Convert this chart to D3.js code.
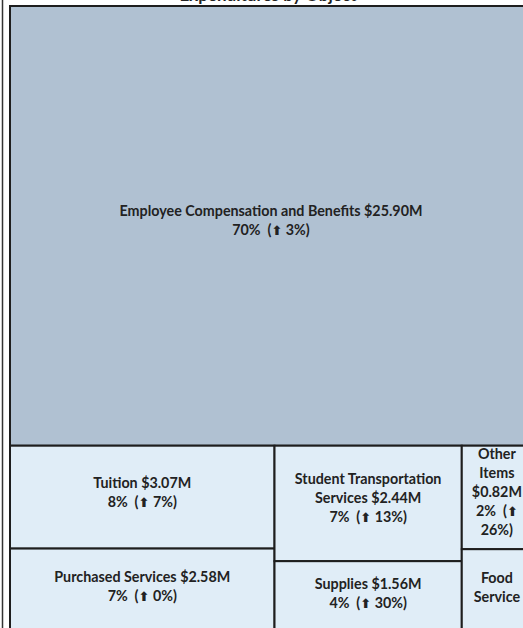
<!DOCTYPE html>
<html><head><meta charset="utf-8">
<script src="https://cdn.jsdelivr.net/npm/d3@7"></script>
<style>body{margin:0;background:#fff;overflow:hidden} svg{display:block}</style>
</head><body>
<svg id="chart" width="523" height="628"></svg>
<script>
// ---- data ----
const title = "Expenditures by Object";
const categories = ["Employee Compensation and Benefits", "Tuition", "Purchased Services",
  "Student Transportation Services", "Supplies", "Other Items", "Food Service"];
const amounts = [25.90, 3.07, 2.58, 2.44, 1.56, 0.82, 0.68];   // $ millions
const shares  = [70, 8, 7, 7, 4, 2, 2];                         // % of total
const changes = [3, 7, 0, 13, 30, 26, null];                     // % change (arrow up); null = not visible
const bandOf  = [0, 1, 1, 2, 2, 3, 3];                           // 0 = top band, 1..3 = lower columns

// ---- build hierarchy ----
const leaves = categories.map((c, i) => ({name: c, value: amounts[i], share: shares[i], change: changes[i], band: bandOf[i]}));
const lowerCols = d3.groups(leaves.filter(d => d.band > 0), d => d.band).map(([k, v]) => ({name: "col" + k, children: v}));
const rootData = {name: "root", children: [...leaves.filter(d => d.band === 0), {name: "lower", children: lowerCols}]};

const root = d3.hierarchy(rootData).sum(d => d.children ? 0 : d.value);

const X0 = 10, Y0 = 6, W = 522, H = 629;
const tile = (node, x0, y0, x1, y1) => (node.depth % 2 === 0 ? d3.treemapSlice : d3.treemapDice)(node, x0, y0, x1, y1);
d3.treemap().tile(tile).size([W, H]).round(false)(root);

const svg = d3.select("#chart");
const fontFam = "Lato, 'Open Sans', sans-serif";
const FS = 14.3;

// outer frame line
svg.append("line").attr("x1", 2.5).attr("x2", 2.5).attr("y1", 0).attr("y2", 628)
  .attr("stroke", "#333").attr("stroke-width", 1.5);

// title (mostly cropped above the top edge)
svg.append("text").attr("x", 268).attr("y", 0.5).attr("text-anchor", "middle")
  .attr("font-family", fontFam).attr("font-weight", "bold").attr("font-size", 17).attr("fill", "#222")
  .text(title);

const g = svg.append("g").attr("transform", `translate(${X0},${Y0})`);
const cells = g.selectAll("g.cell").data(root.leaves()).join("g").attr("class", "cell");

cells.append("rect")
  .attr("x", d => d.x0).attr("y", d => d.y0)
  .attr("width", d => d.x1 - d.x0).attr("height", d => d.y1 - d.y0)
  .attr("fill", d => d.data.band === 0 ? "#b0c1d2" : "#e0edf7")
  .attr("stroke", "#1e1e1e").attr("stroke-width", 2);

// text measuring helper
const meas = svg.append("text").attr("font-family", fontFam).attr("font-weight", "bold").attr("font-size", FS).attr("visibility", "hidden");
function fillLine(sel, str) {
  sel.selectAll("tspan").remove();
  const parts = str.split("⬆");
  parts.forEach((p, i) => {
    if (i > 0) sel.append("tspan").attr("font-family", "'DejaVu Sans'").attr("font-size", 13).text("⬆");
    if (p) sel.append("tspan").text(p);
  });
}
function width(str) { fillLine(meas, str); return meas.node().getComputedTextLength(); }
function wrap(str, maxW) {
  const words = str.split(" ");
  const lines = []; let cur = "";
  words.forEach(w => {
    const t = cur ? cur + " " + w : w;
    if (cur && width(t) > maxW) { lines.push(cur); cur = w; } else cur = t;
  });
  if (cur) lines.push(cur);
  return lines;
}

const LH = 19;
cells.each(function(d) {
  const w = d.x1 - d.x0, h = d.y1 - d.y0, maxW = w - 8;
  let lines;
  if (d.data.change == null) {
    lines = wrap(d.data.name, maxW);
  } else {
    lines = wrap(`${d.data.name} $${d.data.value.toFixed(2)}M`, maxW)
      .concat(wrap(`${d.data.share}%\u00a0 (⬆ ${d.data.change}%)`, maxW));
  }
  const cx = (d.x0 + d.x1) / 2, cy = (d.y0 + d.y1) / 2 - 5;
  const top = cy - (lines.length - 1) * LH / 2;
  lines.forEach((ln, i) => {
    const t = d3.select(this).append("text")
      .attr("x", cx).attr("y", top + i * LH).attr("dy", "0.35em")
      .attr("text-anchor", "middle").attr("font-family", fontFam).attr("font-weight", "bold")
      .attr("font-size", FS).attr("fill", "#222");
    fillLine(t, ln);
  });
});
meas.remove();
</script>
</body></html>
